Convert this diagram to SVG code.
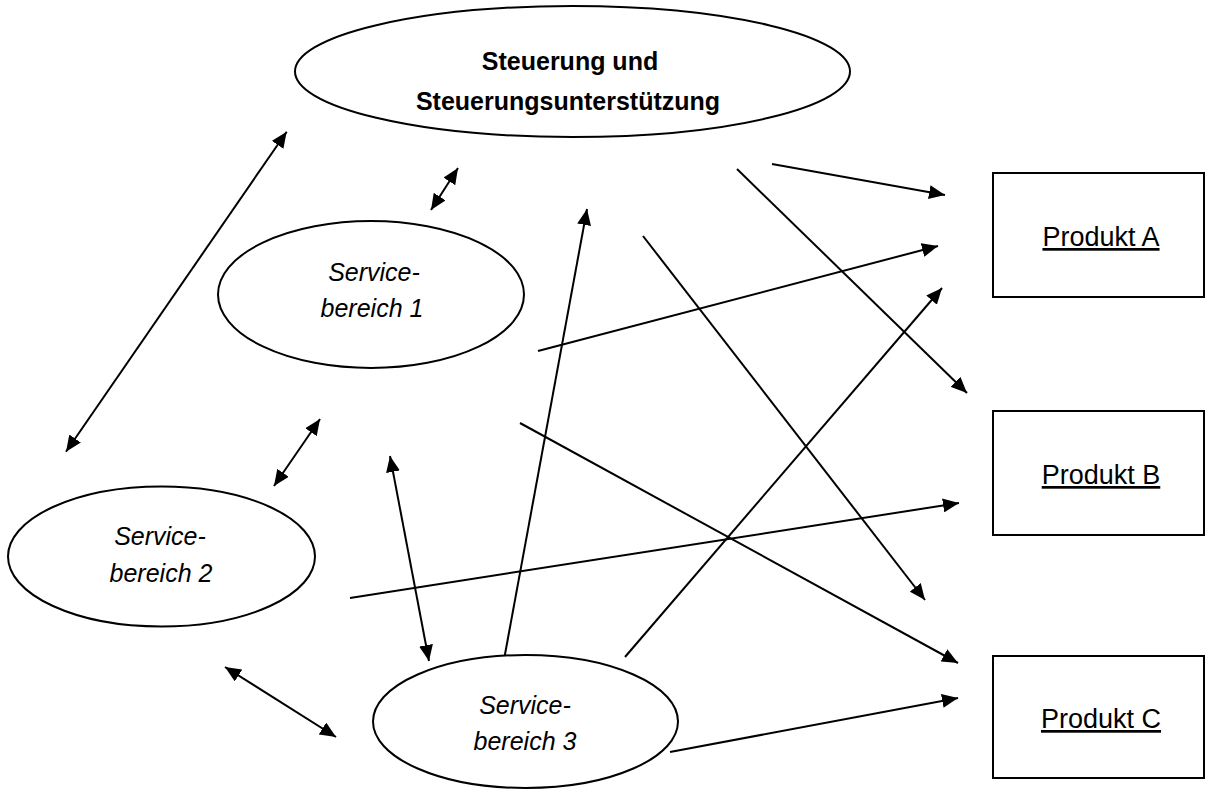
<svg xmlns="http://www.w3.org/2000/svg" width="1207" height="789" viewBox="0 0 1207 789">
<style>
.shape{fill:#fff;stroke:#000;stroke-width:2}
.title{font-family:"Liberation Sans",Arial,sans-serif;font-weight:bold;font-size:25px;text-anchor:middle;fill:#000}
.svc{font-family:"Liberation Sans",Arial,sans-serif;font-style:italic;font-size:25px;text-anchor:middle;fill:#000}
.prod{font-family:"Liberation Sans",Arial,sans-serif;font-size:27px;text-anchor:middle;fill:#000;text-decoration:underline}
.c{stroke:#000;stroke-width:2;fill:none}
.e{marker-end:url(#ah)}
.b{marker-start:url(#ah);marker-end:url(#ah)}
</style>
<defs>
<marker id="ah" markerUnits="userSpaceOnUse" markerWidth="17" markerHeight="14" refX="16" refY="7" orient="auto-start-reverse" viewBox="0 0 17 14">
<path d="M0,0 L16,7 L0,14 z" fill="#000"/>
</marker>
</defs>
<rect width="1207" height="789" fill="#fff"/>
<g id="connectors">
<line class="c b" x1="286.7" y1="131.7" x2="66" y2="451.7"/>
<line class="c b" x1="458" y1="168" x2="431" y2="210"/>
<line class="c e" x1="772" y1="164" x2="945" y2="195"/>
<line class="c e" x1="737" y1="169" x2="967" y2="393"/>
<line class="c e" x1="643" y1="236" x2="925" y2="600"/>
<line class="c b" x1="587" y1="209" x2="501" y2="676"/>
<line class="c e" x1="538" y1="351" x2="938" y2="246"/>
<line class="c e" x1="520" y1="423" x2="958" y2="663"/>
<line class="c b" x1="320" y1="419" x2="274" y2="486"/>
<line class="c b" x1="390" y1="456" x2="429" y2="661"/>
<line class="c e" x1="350" y1="598" x2="959" y2="503"/>
<line class="c b" x1="225" y1="667" x2="336" y2="737"/>
<line class="c e" x1="625" y1="657" x2="942" y2="288"/>
<line class="c e" x1="670" y1="752" x2="958" y2="698"/>
</g>
<g id="steuerung">
<ellipse class="shape" cx="572.5" cy="71.5" rx="277.5" ry="65.5"/>
<text class="title" x="570" y="70">Steuerung und</text>
<text class="title" x="568" y="110">Steuerungsunterstützung</text>
</g>
<g id="service1">
<ellipse class="shape" cx="371" cy="294.5" rx="153" ry="73.5"/>
<text class="svc" x="374" y="281">Service-</text>
<text class="svc" x="372" y="317">bereich 1</text>
</g>
<g id="service2">
<ellipse class="shape" cx="161.5" cy="556.5" rx="153.5" ry="70"/>
<text class="svc" x="160" y="545">Service-</text>
<text class="svc" x="161" y="582">bereich 2</text>
</g>
<g id="service3">
<ellipse class="shape" cx="525.5" cy="721.5" rx="152.5" ry="66.5"/>
<text class="svc" x="525" y="714">Service-</text>
<text class="svc" x="525" y="750">bereich 3</text>
</g>
<g id="produktA">
<rect class="shape" x="993" y="173" width="211" height="124"/>
<text class="prod" x="1101" y="246">Produkt A</text>
</g>
<g id="produktB">
<rect class="shape" x="993" y="411" width="211" height="124"/>
<text class="prod" x="1101" y="484">Produkt B</text>
</g>
<g id="produktC">
<rect class="shape" x="993" y="656" width="211" height="122"/>
<text class="prod" x="1101" y="728">Produkt C</text>
</g>
</svg>
